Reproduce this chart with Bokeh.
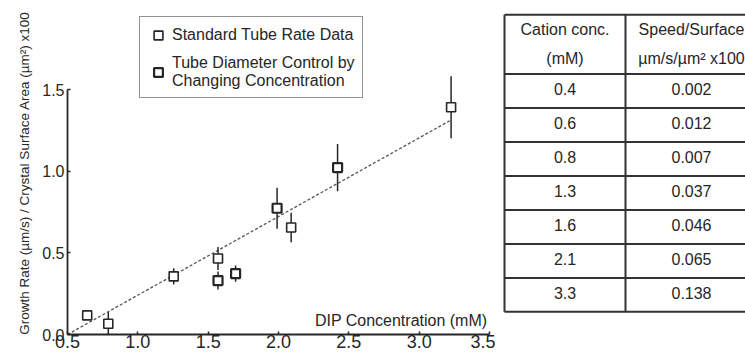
from bokeh.plotting import figure
from bokeh.models import Range1d, FixedTicker, Label, Legend, LegendItem, ColumnDataSource
from bokeh.layouts import row
from bokeh.embed import file_html
from bokeh.resources import INLINE
from bokeh.core.properties import value

# ---- data ----
std_x = [0.64, 0.79, 1.255, 1.57, 2.09, 3.227]
std_y = [0.117, 0.066, 0.356, 0.465, 0.655, 1.391]
std_err = [0.02, 0.07, 0.05, 0.07, 0.09, 0.19]

ctl_x = [1.57, 1.695, 1.99, 2.42]
ctl_y = [0.33, 0.373, 0.773, 1.022]
ctl_err = [0.055, 0.05, 0.125, 0.145]

fit_x = [0.5, 3.22]
fit_y = [0.0, 1.31]

x_ticks = [0.5, 1.0, 1.5, 2.0, 2.5, 3.0, 3.5]
y_ticks = [0.0, 0.5, 1.0, 1.5]

cation = ["0.4", "0.6", "0.8", "1.3", "1.6", "2.1", "3.3"]
speed = ["0.002", "0.012", "0.007", "0.037", "0.046", "0.065", "0.138"]
header_left = ["Cation conc.", "(mM)"]
header_right = ["Speed/Surface", "\u00b5m/s/\u00b5m\u00b2 x100"]

FONT = "Liberation Sans"
INK = "#262626"

# ---- scatter figure ----
p = figure(width=495, height=354, x_range=Range1d(0.5, 3.5), y_range=Range1d(0, 2.045),
           output_backend="svg", toolbar_location=None,
           min_border_left=67, min_border_right=6, min_border_top=0, min_border_bottom=20)
p.outline_line_color = None
p.xgrid.visible = False
p.ygrid.visible = False
p.background_fill_color = "white"
p.border_fill_color = "white"

for ax in (p.xaxis[0], p.yaxis[0]):
    ax.axis_line_color = INK
    ax.axis_line_width = 1.8
    ax.major_tick_line_color = INK
    ax.major_tick_line_width = 1.5
    ax.major_tick_in = 3
    ax.major_tick_out = 0
    ax.minor_tick_line_color = None
    ax.major_label_text_font = FONT
    ax.major_label_text_color = INK
p.xaxis[0].ticker = FixedTicker(ticks=x_ticks)
p.yaxis[0].ticker = FixedTicker(ticks=y_ticks)
p.xaxis[0].bounds = (0.5, 3.5)
p.yaxis[0].bounds = (0.0, 1.5)
p.xaxis[0].major_label_overrides = {t: f"{t:.1f}" for t in x_ticks}
p.yaxis[0].major_label_overrides = {t: f"{t:.1f}" for t in y_ticks}
p.xaxis[0].major_label_text_font_size = "18px"
p.yaxis[0].major_label_text_font_size = "16px"
p.xaxis[0].major_label_standoff = 0
p.yaxis[0].major_label_standoff = 3

nb = "\u00a0" * 3
p.yaxis[0].axis_label = "Growth Rate (\u00b5m/s) / Crystal Surface Area (\u00b5m\u00b2) x100" + nb
p.yaxis[0].axis_label_text_font = FONT
p.yaxis[0].axis_label_text_font_size = "13.5px"
p.yaxis[0].axis_label_text_font_style = "normal"
p.yaxis[0].axis_label_text_color = INK
p.yaxis[0].axis_label_standoff = 7

# fit line
p.line(fit_x, fit_y, line_color="#555555", line_width=1.3, line_dash="3 2")

# error bars
p.segment(x0=std_x, y0=[y - e for y, e in zip(std_y, std_err)],
          x1=std_x, y1=[y + e for y, e in zip(std_y, std_err)],
          line_color=INK, line_width=1.5)
p.segment(x0=ctl_x, y0=[y - e for y, e in zip(ctl_y, ctl_err)],
          x1=ctl_x, y1=[y + e for y, e in zip(ctl_y, ctl_err)],
          line_color=INK, line_width=1.5)

r_std = p.scatter(std_x, std_y, marker="square", size=9, fill_color="white",
                  line_color=INK, line_width=1.6)
r_ctl = p.scatter(ctl_x, ctl_y, marker="square", size=9, fill_color="white",
                  line_color=INK, line_width=2.2)

legend = Legend(items=[LegendItem(label="Standard Tube Rate Data", renderers=[r_std]),
                       LegendItem(label="Tube Diameter Control by\nChanging Concentration",
                                  renderers=[r_ctl])],
                location=(72, 236))
legend.label_text_font = FONT
legend.label_text_font_size = "16px"
legend.label_text_color = INK
legend.border_line_color = INK
legend.border_line_width = 1.5
legend.background_fill_alpha = 1
legend.padding = 7
legend.spacing = 8
legend.glyph_width = 22
legend.glyph_height = 22
legend.label_standoff = 3
legend.margin = 0
p.add_layout(legend)

p.add_layout(Label(x=3.485, y=0.086, text="DIP Concentration (mM)", text_align="right",
                   text_baseline="middle", text_font=FONT, text_font_size="16px",
                   text_color=INK))

# ---- table figure ----
X0, X1, X2 = 504, 625, 757
TOP, ROW0, RH = 15, 78, 36
t = figure(width=250, height=354, x_range=Range1d(495, 745), y_range=Range1d(354, 0),
           output_backend="svg", toolbar_location=None, x_axis_type=None, y_axis_type=None,
           min_border=0, min_border_left=0, min_border_right=0, min_border_top=0, min_border_bottom=0)
t.outline_line_color = None
t.xgrid.visible = False
t.ygrid.visible = False

n = len(cation)
hy = [TOP] + [ROW0 + RH * i for i in range(n + 1)]
t.segment(x0=[X0] * len(hy), y0=hy, x1=[X2] * len(hy), y1=hy, line_color="#333333", line_width=2)
bottom = ROW0 + RH * n
t.segment(x0=[X0, X1, X2], y0=[TOP] * 3, x1=[X0, X1, X2], y1=[bottom] * 3,
          line_color="#333333", line_width=2)

c0 = (X0 + X1) / 2
c1 = 691
tsrc = ColumnDataSource(dict(
    x=[c0] * n + [c1] * n,
    y=[ROW0 + RH * i + 16 for i in range(n)] * 2,
    text=cation + speed))
t.text(x="x", y="y", text="text", source=tsrc, text_align="center", text_baseline="middle",
       text_font=value(FONT), text_font_size="16px", text_color=INK)
hsrc = ColumnDataSource(dict(
    x=[c0, c0, c1, c1], y=[31, 61, 31, 61], text=header_left + header_right))
t.text(x="x", y="y", text="text", source=hsrc, text_align="center", text_baseline="middle",
       text_font=value(FONT), text_font_size="16px", text_color=INK)

layout = row(p, t, spacing=0)
open("out.html", "w").write(file_html(layout, INLINE))
